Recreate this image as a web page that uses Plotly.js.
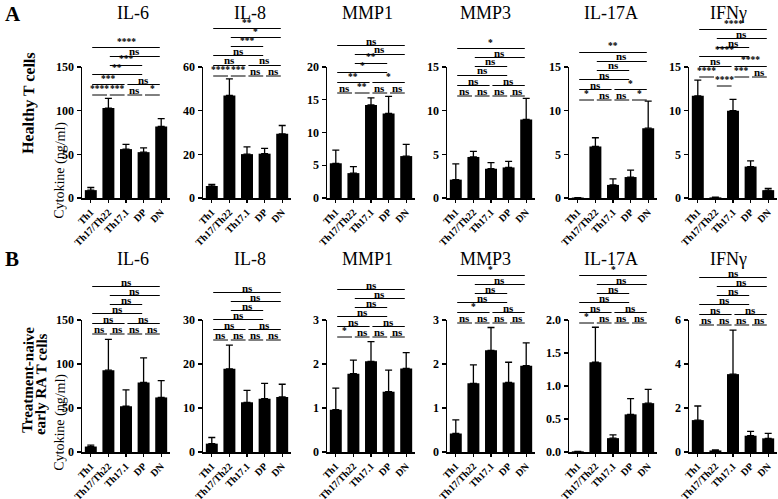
<!DOCTYPE html>
<html><head><meta charset="utf-8">
<script src="https://cdn.plot.ly/plotly-3.0.1.min.js"></script>
<style>html,body{margin:0;padding:0;background:#fff}</style>
</head><body><div id="chart" style="width:778px;height:499px"></div>
<script>
// ---------- data ----------
const categories = ['Th1', 'Th17/Th22', 'Th17.1', 'DP', 'DN'];
const cytokines = ['IL-6', 'IL-8', 'MMP1', 'MMP3', 'IL-17A', 'IFNγ'];
const rowLetters = ['A', 'B'];
const rowLabels = [['Healthy T cells'], ['Treatment-naive', 'early RA T cells']];
const yLabel = 'Cytokine (ng/ml)';

// Healthy T cells: mean and upper SEM (ng/ml)
const healthyIL6 = [9, 103, 56, 52.5, 82];
const healthyIL6Err = [3, 11, 5.5, 5, 9];
const healthyIL8 = [5.5, 47, 20.1, 20.3, 29.4];
const healthyIL8Err = [0.7, 7.6, 3.3, 2.4, 3.8];
const healthyMMP1 = [5.3, 3.8, 14.2, 12.9, 6.4];
const healthyMMP1Err = [2.0, 1.0, 1.1, 2.6, 1.8];
const healthyMMP3 = [2.1, 4.7, 3.35, 3.5, 9.0];
const healthyMMP3Err = [1.8, 0.65, 0.7, 0.7, 2.4];
const healthyIL17A = [0.05, 5.9, 1.5, 2.4, 8.0];
const healthyIL17AErr = [0, 1.0, 0.7, 0.8, 3.1];
const healthyIFNg = [11.7, 0.07, 10.0, 3.6, 0.9];
const healthyIFNgErr = [1.8, 0.03, 1.3, 0.65, 0.2];

// Treatment-naive early RA T cells
const raIL6 = [6.2, 93, 52, 79, 62];
const raIL6Err = [1.5, 35, 18.5, 28, 19];
const raIL8 = [1.9, 18.9, 11.3, 12.1, 12.5];
const raIL8Err = [1.4, 5.4, 2.7, 3.5, 2.9];
const raMMP1 = [0.96, 1.78, 2.06, 1.37, 1.9];
const raMMP1Err = [0.49, 0.31, 0.45, 0.49, 0.36];
const raMMP3 = [0.42, 1.56, 2.31, 1.58, 1.96];
const raMMP3Err = [0.31, 0.42, 0.52, 0.46, 0.52];
const raIL17A = [0.01, 1.36, 0.21, 0.57, 0.74];
const raIL17AErr = [0, 0.53, 0.05, 0.24, 0.21];
const raIFNg = [1.45, 0.07, 3.54, 0.74, 0.62];
const raIFNgErr = [0.64, 0.02, 2.0, 0.2, 0.23];

// y-axis ticks
const healthyTicks = [[0, 50, 100, 150], [0, 20, 40, 60], [0, 5, 10, 15, 20], [0, 5, 10, 15], [0, 5, 10, 15], [0, 5, 10, 15]];
const raTicks = [[0, 50, 100, 150], [0, 10, 20, 30], [0, 1, 2, 3], [0, 1, 2, 3], [0, 0.5, 1, 1.5, 2], [0, 2, 4, 6]];
const raTickText = [null, null, null, null, ['0.0', '0.5', '1.0', '1.5', '2.0'], null];

// significance comparisons (category index pairs) and labels per panel
const pairs = [[0,1],[1,2],[2,3],[3,4],[0,2],[2,4],[0,3],[1,3],[1,4],[0,4]];
const healthySig = [
  ['****','***','ns','*','***','ns','**','***','ns','****'],
  ['****','***','ns','ns','ns','ns','ns','***','*','**'],
  ['ns','**','ns','ns','**','*','*','**','ns','ns'],
  ['ns','ns','ns','ns','ns','ns','ns','ns','ns','*'],
  ['*','ns','ns','*','ns','*','ns','ns','ns','**'],
  ['****','****','***','ns','ns','****','****','ns','ns','****']
];
const raSig = [
  ['ns','ns','ns','ns','ns','ns','ns','ns','ns','ns'],
  ['ns','ns','ns','ns','ns','ns','ns','ns','ns','ns'],
  ['*','ns','ns','ns','ns','ns','ns','ns','ns','ns'],
  ['ns','ns','ns','ns','*','ns','ns','ns','ns','*'],
  ['*','ns','ns','ns','ns','ns','ns','ns','ns','*'],
  ['ns','ns','ns','ns','ns','ns','ns','ns','ns','ns']
];

// ---------- layout geometry (pixels) ----------
const W = 778, H = 499;
const px = v => v / W;
const py = v => 1 - v / H;
const panelLeft = [82, 203, 327, 447, 569, 689];
const panelWidth = 88;
const rowTop = [67, 320], rowBottom = [198, 452];
const titleX = [133, 250, 367, 486, 611, 728];
const titleY = [13, 259];
const bracketBase = [[95, 76, 93, 96, 100, 77], [334, 340, 337, 323, 323, 325]];
const defaultLevels = [0,0,0,0,1,1,2,3,4,5];
const ifngHealthyLevels = [0,-1,0,0,1,1,2,3,4,5];
const levelOffset = {'-1': -9, '0': 0, '1': 10.5, '2': 20.5, '3': 29.5, '4': 38.5, '5': 47.5};

const rows = [
  {means: [healthyIL6, healthyIL8, healthyMMP1, healthyMMP3, healthyIL17A, healthyIFNg],
   errs: [healthyIL6Err, healthyIL8Err, healthyMMP1Err, healthyMMP3Err, healthyIL17AErr, healthyIFNgErr],
   ticks: healthyTicks, tickText: [null,null,null,null,null,null], sig: healthySig},
  {means: [raIL6, raIL8, raMMP1, raMMP3, raIL17A, raIFNg],
   errs: [raIL6Err, raIL8Err, raMMP1Err, raMMP3Err, raIL17AErr, raIFNgErr],
   ticks: raTicks, tickText: raTickText, sig: raSig}
];

const FONT = 'Liberation Serif';
const data = [], shapes = [], annotations = [];
const layout = {
  width: W, height: H, margin: {l: 0, r: 0, t: 0, b: 0},
  paper_bgcolor: '#fff', plot_bgcolor: '#fff', showlegend: false,
  font: {family: FONT, color: '#000'}
};

rows.forEach((row, r) => {
  row.means.forEach((m, c) => {
    const k = r * 6 + c + 1;
    const sfx = k === 1 ? '' : String(k);
    const xa = 'x' + sfx, ya = 'y' + sfx;
    const ticks = row.ticks[c];
    data.push({
      type: 'bar', x: categories, y: m, xaxis: xa, yaxis: ya, width: 0.68,
      marker: {color: '#000', line: {width: 0}}, hoverinfo: 'none',
      error_y: {type: 'data', symmetric: false, array: row.errs[c], arrayminus: m.map(() => 0),
                color: '#000', thickness: 1.3, width: 3.5}
    });
    layout['xaxis' + sfx] = {
      domain: [px(panelLeft[c]), px(panelLeft[c] + panelWidth)], anchor: ya,
      type: 'category', range: [-0.5, 4.5], showline: true, linecolor: '#000', linewidth: 1.5,
      ticks: 'outside', ticklen: 3, tickwidth: 1.3, tickcolor: '#000', tickangle: -45,
      tickfont: {family: FONT, size: 10, weight: 700, color: '#000'}, showgrid: false, zeroline: false,
      fixedrange: true
    };
    const yax = {
      domain: [py(rowBottom[r]), py(rowTop[r])], anchor: xa,
      range: [0, ticks[ticks.length - 1]], tickvals: ticks, showline: true, linecolor: '#000', linewidth: 1.5,
      ticks: 'outside', ticklen: 4, tickwidth: 1.3, tickcolor: '#000',
      tickfont: {family: FONT, size: 12, weight: 700, color: '#000'}, showgrid: false, zeroline: false,
      fixedrange: true
    };
    if (row.tickText[c]) yax.ticktext = row.tickText[c];
    layout['yaxis' + sfx] = yax;

    // panel title
    annotations.push({xref: 'paper', yref: 'paper', x: px(titleX[c]), y: py(titleY[r]),
      xanchor: 'center', yanchor: 'middle', showarrow: false, text: cytokines[c],
      font: {family: FONT, size: 18, color: '#000'}});

    // significance brackets
    const levels = (r === 0 && c === 5) ? ifngHealthyLevels : defaultLevels;
    pairs.forEach((p, i) => {
      const yl = bracketBase[r][c] - levelOffset[String(levels[i])];
      const lab = row.sig[c][i];
      shapes.push({type: 'line', xref: xa, yref: 'paper', x0: p[0] + 0.08, x1: p[1] - 0.08,
        y0: py(yl), y1: py(yl), line: {color: '#000', width: 1}});
      annotations.push({xref: xa, yref: 'paper', x: (p[0] + p[1]) / 2, y: py(yl),
        xanchor: 'center', yanchor: 'bottom', yshift: lab === 'ns' ? -3 : -1, showarrow: false, text: lab,
        font: {family: FONT, size: lab === 'ns' ? 11 : 9.5, weight: 700, color: '#000'}});
    });
  });
});

// Cytokine label: rotated tick label of helper axes
const vAxes = [['y', 'x', 13, (198 - 124) / 131], ['y7', 'x7', 14, (452 - 376) / 132]];
vAxes.forEach(v => {
  layout['yaxis' + v[2]] = {
    overlaying: v[0], anchor: 'free', position: px(58), side: 'left', range: [0, 1],
    tickvals: [v[3]], ticktext: [yLabel], tickangle: -89, ticks: '', showline: false,
    showgrid: false, zeroline: false, fixedrange: true,
    tickfont: {family: FONT, size: 14, color: '#000'}
  };
  data.push({type: 'scatter', x: [], y: [], xaxis: v[1], yaxis: 'y' + v[2], showlegend: false, hoverinfo: 'none'});
});

// row letters and row labels
annotations.push({xref: 'paper', yref: 'paper', x: px(3), y: py(14), xanchor: 'left', yanchor: 'middle',
  showarrow: false, text: rowLetters[0], font: {family: FONT, size: 21, weight: 700, color: '#000'}});
annotations.push({xref: 'paper', yref: 'paper', x: px(3), y: py(259), xanchor: 'left', yanchor: 'middle',
  showarrow: false, text: rowLetters[1], font: {family: FONT, size: 21, weight: 700, color: '#000'}});
annotations.push({xref: 'paper', yref: 'paper', x: px(29), y: py(103), xanchor: 'center', yanchor: 'middle',
  textangle: -89, showarrow: false, text: rowLabels[0][0], font: {family: FONT, size: 16, weight: 700, color: '#000'}});
annotations.push({xref: 'paper', yref: 'paper', x: px(28), y: py(380), xanchor: 'center', yanchor: 'middle',
  textangle: -89, showarrow: false, text: rowLabels[1][0], font: {family: FONT, size: 15, weight: 700, color: '#000'}});
annotations.push({xref: 'paper', yref: 'paper', x: px(41), y: py(384), xanchor: 'center', yanchor: 'middle',
  textangle: -89, showarrow: false, text: rowLabels[1][1], font: {family: FONT, size: 15, weight: 700, color: '#000'}});

layout.shapes = shapes;
layout.annotations = annotations;
Plotly.newPlot('chart', data, layout, {staticPlot: true, displayModeBar: false});
</script></body></html>
